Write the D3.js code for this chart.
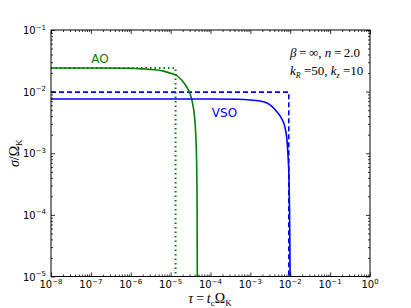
<!DOCTYPE html>
<html>
<head>
<meta charset="utf-8">
<script src="https://cdn.jsdelivr.net/npm/d3@7"></script>
<style>
  body { margin: 0; background: #fff; }
  svg { display: block; }
</style>
</head>
<body>
<div id="chart"></div>
<script>
// values
const aoTau   = [1e-8, 1e-7, 1e-6, 2e-6, 4e-6, 7e-6, 1e-5, 1.33e-5, 1.7e-5, 2.1e-5, 2.5e-5, 3.07e-5, 3.5e-5, 3.8e-5, 4.1e-5, 4.3e-5, 4.45e-5, 4.55e-5, 4.62e-5, 4.66e-5];
const aoSigma = [0.0242, 0.0242, 0.0239, 0.0234, 0.0226, 0.0213, 0.0199, 0.0187, 0.0165, 0.0142, 0.0120, 0.0093, 0.0068, 0.0050, 0.0031, 0.0018, 0.0009, 0.0004, 0.00012, 0.00001];
const aoStepTau = [1e-8, 1.33e-5, 1.33e-5];
const aoStepSigma = [0.0242, 0.0242, 0.00001];

const vsoTau   = [1e-8, 1e-5, 1e-4, 5e-4, 1e-3, 2e-3, 3e-3, 4.5e-3, 6e-3, 7.4e-3, 8.3e-3, 8.9e-3, 9.3e-3, 9.6e-3, 9.8e-3, 9.9e-3];
const vsoSigma = [0.0076, 0.0076, 0.0076, 0.0075, 0.0073, 0.0069, 0.0062, 0.0048, 0.0037, 0.0026, 0.0016, 0.0008, 0.0004, 0.00012, 0.00003, 0.00001];
const vsoStepTau = [1e-8, 9.2e-3, 9.2e-3];
const vsoStepSigma = [0.0098, 0.0098, 0.00001];

const xDecades = [-8, -7, -6, -5, -4, -3, -2, -1, 0];
const yDecades = [-5, -4, -3, -2, -1];

const width = 411, height = 308;
const mLeft = 51, mRight = 370, mTop = 30, mBottom = 276.5;

const x = d3.scaleLog().domain([1e-8, 1]).range([mLeft, mRight]);
const y = d3.scaleLog().domain([1e-5, 1e-1]).range([mBottom, mTop]);

const svg = d3.select("#chart").append("svg")
    .attr("width", width)
    .attr("height", height)
    .attr("font-family", "DejaVu Sans, sans-serif");

const green = "#008000", blue = "#0000ff";

const line = d3.line().x(d => x(d[0])).y(d => y(d[1]));
const zip = (a, b) => a.map((v, i) => [v, b[i]]);

svg.append("clipPath").attr("id", "clip")
  .append("rect").attr("x", mLeft).attr("y", mTop).attr("width", mRight - mLeft).attr("height", mBottom - mTop);
const g = svg.append("g").attr("clip-path", "url(#clip)");

g.append("path").datum(zip(aoStepTau, aoStepSigma))
    .attr("d", line).attr("fill", "none").attr("stroke", green)
    .attr("stroke-width", 2).attr("stroke-dasharray", "1.5,3");
g.append("path").datum(zip(vsoStepTau, vsoStepSigma))
    .attr("d", line).attr("fill", "none").attr("stroke", blue)
    .attr("stroke-width", 1.6).attr("stroke-dasharray", "5,3");
const smooth = d3.line().x(d => x(d[0])).y(d => y(d[1])).curve(d3.curveMonotoneX);
g.append("path").datum(zip(aoTau, aoSigma))
    .attr("d", smooth).attr("fill", "none").attr("stroke", green)
    .attr("stroke-width", 1.6);
g.append("path").datum(zip(vsoTau, vsoSigma))
    .attr("d", smooth).attr("fill", "none").attr("stroke", blue)
    .attr("stroke-width", 1.6);

// minor + major ticks, inward on all four sides
const xMajor = xDecades.map(d => Math.pow(10, d));
const yMajor = yDecades.map(d => Math.pow(10, d));
const minors = decs => decs.slice(0, -1).flatMap(d => d3.range(2, 10).map(k => k * Math.pow(10, d)));

function tickAxis(axis, vals, size, tx, ty) {
  const a = svg.append("g").attr("transform", `translate(${tx},${ty})`)
    .call(axis.tickValues(vals).tickSizeInner(size).tickSizeOuter(0).tickFormat(""));
  a.select(".domain").remove();
  a.selectAll("line").attr("stroke", "#000").attr("stroke-width", 0.8);
}
tickAxis(d3.axisBottom(x), xMajor, -4, 0, mBottom);
tickAxis(d3.axisBottom(x), minors(xDecades), -2, 0, mBottom);
tickAxis(d3.axisTop(x), xMajor, -4, 0, mTop);
tickAxis(d3.axisTop(x), minors(xDecades), -2, 0, mTop);
tickAxis(d3.axisLeft(y), yMajor, -4, mLeft, 0);
tickAxis(d3.axisLeft(y), minors(yDecades), -2, mLeft, 0);
tickAxis(d3.axisRight(y), yMajor, -4, mRight, 0);
tickAxis(d3.axisRight(y), minors(yDecades), -2, mRight, 0);

svg.append("rect")
    .attr("x", mLeft).attr("y", mTop)
    .attr("width", mRight - mLeft).attr("height", mBottom - mTop)
    .attr("fill", "none").attr("stroke", "#000").attr("stroke-width", 1);

// tick labels 10^n
function powLabel(sel, e) {
  sel.append("tspan").text("10");
  sel.append("tspan").attr("dy", -4.5).attr("font-size", 7).text(e === 0 ? "0" : "\u2212" + Math.abs(e));
}
xDecades.forEach(e => {
  const t = svg.append("text")
      .attr("x", x(Math.pow(10, e))).attr("y", 288)
      .attr("text-anchor", "middle").attr("font-size", 10);
  powLabel(t, e);
});
yDecades.forEach(e => {
  const t = svg.append("text")
      .attr("x", 46).attr("y", y(Math.pow(10, e)) + 4)
      .attr("text-anchor", "end").attr("font-size", 10);
  powLabel(t, e);
});

// axis labels
const serif = "Liberation Serif, DejaVu Serif, serif";
const xl = svg.append("text")
    .attr("x", 210).attr("y", 303)
    .attr("text-anchor", "middle").attr("font-family", serif).attr("font-size", 14);
xl.append("tspan").attr("font-style", "italic").text("\u03c4");
xl.append("tspan").text("\u2009=\u2009");
xl.append("tspan").attr("font-style", "italic").text("t");
xl.append("tspan").attr("dy", 3).attr("font-size", 9).text("c");
xl.append("tspan").attr("dy", -3).text("\u03a9");
xl.append("tspan").attr("dy", 3).attr("font-size", 9).text("K");

const yl = svg.append("text")
    .attr("transform", `translate(19,${(mTop + mBottom) / 2}) rotate(-90)`)
    .attr("text-anchor", "middle").attr("font-family", serif).attr("font-size", 14);
yl.append("tspan").attr("font-style", "italic").text("\u03c3");
yl.append("tspan").text("/\u03a9");
yl.append("tspan").attr("dy", 3).attr("font-size", 9).text("K");

// series labels
svg.append("text").attr("x", 100).attr("y", 63).attr("text-anchor", "middle")
    .attr("font-size", 12).attr("fill", green).text("AO");
svg.append("text").attr("x", 224.5).attr("y", 117).attr("text-anchor", "middle")
    .attr("font-size", 12).attr("fill", blue).text("VSO");

// parameter annotation
const p1 = svg.append("text").attr("x", 290).attr("y", 57)
    .attr("font-family", serif).attr("font-size", 13);
p1.append("tspan").attr("font-style", "italic").text("\u03b2");
p1.append("tspan").text("\u2009=\u2009\u221e, ");
p1.append("tspan").attr("font-style", "italic").text("n");
p1.append("tspan").text("\u2009=\u20092.0");

const p2 = svg.append("text").attr("x", 290).attr("y", 75)
    .attr("font-family", serif).attr("font-size", 13);
p2.append("tspan").attr("font-style", "italic").text("k");
p2.append("tspan").attr("dy", 3).attr("font-size", 8).attr("font-style", "italic").text("R");
p2.append("tspan").attr("dy", -3).text(" =50, ");
p2.append("tspan").attr("font-style", "italic").text("k");
p2.append("tspan").attr("dy", 3).attr("font-size", 8).attr("font-style", "italic").text("z");
p2.append("tspan").attr("dy", -3).text(" =10");
</script>
</body>
</html>
